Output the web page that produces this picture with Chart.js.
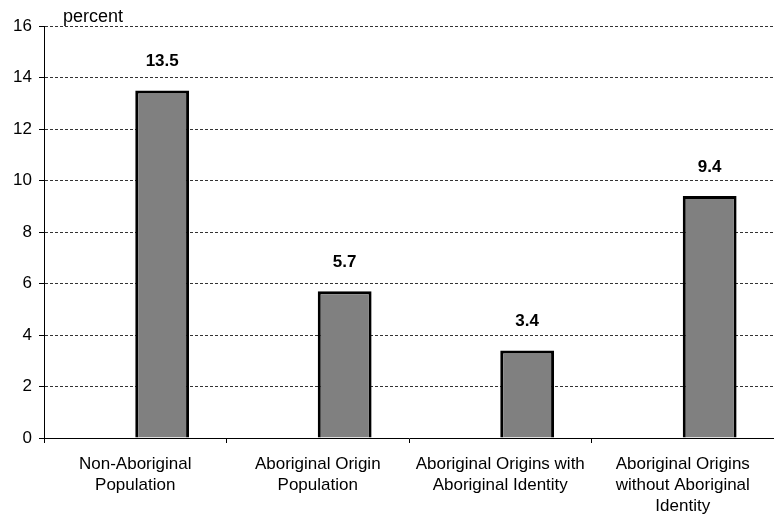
<!DOCTYPE html>
<html>
<head>
<meta charset="utf-8">
<script src="https://cdn.jsdelivr.net/npm/chart.js@4/dist/chart.umd.min.js"></script>
<style>
  body { margin: 0; background: #fff; }
  #wrap { width: 774px; height: 519px; position: relative; }
</style>
</head>
<body>
<div id="wrap"><canvas id="myChart"></canvas></div>
<script>
// Data
const categories = [
  ['Non-Aboriginal', 'Population'],
  ['Aboriginal Origin', 'Population'],
  ['Aboriginal Origins with', 'Aboriginal Identity'],
  ['Aboriginal Origins', 'without Aboriginal', 'Identity']
];
const values = [13.5, 5.7, 3.4, 9.4];
const yTicks = [0, 2, 4, 6, 8, 10, 12, 14, 16];
const unitLabel = 'percent';

const FONT = '"Liberation Sans", Arial, sans-serif';

// Value labels above bars + unit text
const labelPlugin = {
  id: 'labels',
  afterDatasetsDraw(chart) {
    const c = chart.ctx;
    const meta = chart.getDatasetMeta(1);
    c.save();
    c.fillStyle = '#000';
    c.font = 'bold 17px ' + FONT;
    c.textAlign = 'center';
    c.textBaseline = 'middle';
    meta.data.forEach((bar, i) => {
      c.fillText(values[i].toFixed(1), bar.x, bar.y - 29);
    });
    c.font = '18px ' + FONT;
    c.textAlign = 'left';
    c.textBaseline = 'alphabetic';
    c.fillText(unitLabel, 63, 22);
    c.restore();
  }
};

const ctx = document.getElementById('myChart').getContext('2d');
const myChart = new Chart(ctx, {
  type: 'bar',
  data: {
    labels: categories,
    datasets: [
      { data: values.map(() => null), backgroundColor: 'rgba(0,0,0,0)' },
      {
        data: values,
        backgroundColor: '#808080',
        borderColor: '#000',
        borderWidth: 3
      }
    ]
  },
  options: {
    responsive: true,
    maintainAspectRatio: false,
    animation: false,
    categoryPercentage: 0.59,
    barPercentage: 1,
    layout: { padding: { top: 26, right: 0, left: 0, bottom: 0 } },
    plugins: { legend: { display: false }, tooltip: { enabled: false } },
    scales: {
      x: {
        afterFit(scale) { scale.height = 81; },
        grid: { drawOnChartArea: false, drawTicks: true, tickLength: 5, color: '#000' },
        border: { color: '#000', width: 1 },
        ticks: {
          color: '#000',
          font: { size: 17, family: FONT, lineHeight: '21px' },
          maxRotation: 0,
          autoSkip: false,
          padding: 11
        }
      },
      y: {
        min: 0,
        max: 16,
        afterBuildTicks(scale) {
          scale.ticks = yTicks.map(v => ({ value: v }));
        },
        afterFit(scale) { scale.width = 44; },
        grid: {
          color: (c) => c.tick && c.tick.value === 0 ? 'rgba(0,0,0,0)' : '#333',
          tickColor: '#000',
          tickLength: 5,
          tickBorderDash: [],
          lineWidth: 1
        },
        border: { color: '#000', width: 1, dash: [3, 2] },
        ticks: {
          color: '#000',
          font: { size: 17, family: FONT },
          padding: 7
        }
      }
    }
  },
  plugins: [labelPlugin]
});
</script>
</body>
</html>
